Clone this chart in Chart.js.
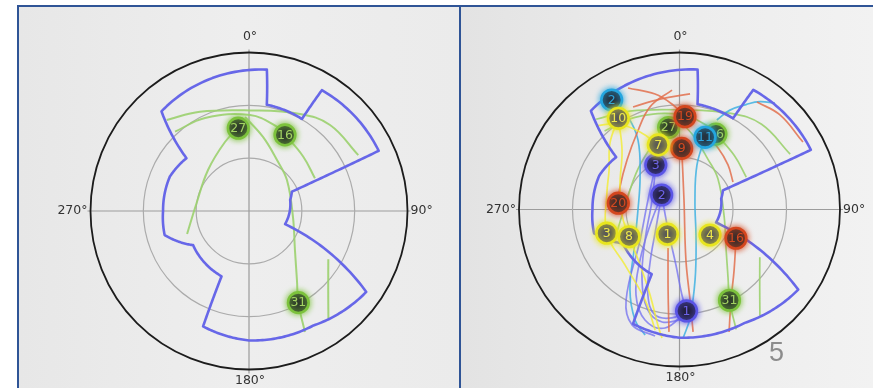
<!DOCTYPE html>
<html>
<head>
<meta charset="utf-8">
<script src="https://cdn.jsdelivr.net/npm/chart.js@4/dist/chart.umd.min.js"></script>
<style>
  html, body { margin: 0; padding: 0; background: #fff; width: 873px; height: 388px; overflow: hidden; }
  .panel { position: absolute; top: 5px; height: 383px; box-sizing: border-box;
           border-top: 2px solid #2f5496; border-left: 2px solid #2f5496; }
  #panelLeft  { left: 17px;  width: 443px; background: linear-gradient(90deg, #e7e7e7, #eeeeee 50%, #ebebeb); }
  #panelRight { left: 459px; width: 414px; background: linear-gradient(90deg, #e3e3e3, #ececec 50%, #f2f2f2); }
  canvas { position: absolute; }
  #page { position: absolute; left: 769px; top: 337px; font: 27px "Liberation Sans", sans-serif; color: #8c8c8c; }
</style>
</head>
<body>
<div class="panel" id="panelLeft"></div>
<div class="panel" id="panelRight"></div>
<canvas id="skyLeft" width="440" height="380" style="left:19px;top:8px"></canvas>
<canvas id="skyRight" width="411" height="380" style="left:462px;top:8px"></canvas>
<div id="page">5</div>
<script>
// ---- sky plot data: every position is [azimuth°, elevation°] ----
const elevationRings = [60, 30];
const compassLabels = ['0°', '90°', '180°', '270°'];

// horizon mask outline (azimuth, elevation) vertices, closed loop
const horizonMask = [
  [-41.3, 14.7], [7.2, 9.1], [9.5, 28.8], [29.9, 29.7], [31.1, 9.9], [65.1, 8.8],
  [65.7, 63.3], [75, 65.8], [110, 68.2], [124.6, 9.1], [150.6, 15.4], [180, 16.5],
  [201.7, 19.5], [202.8, 49.8], [238.6, 52.8], [254.1, 40.2], [270, 41.2],
  [293.5, 41], [310.2, 43.5]
];

// green group (shown in both plots)
const greenIds = ['27', '16', '31'];
const greenSky = [[352.6, 42.6], [25.3, 42.2], [151.7, 30.9]];
const greenTracks = [
  [[317.9, 20.3], [333.7, 27.1], [0.6, 32.9], [27.7, 27.8], [43.3, 22.9], [62.9, 20.3]],
  [[357.6, 36.6], [10.7, 47.2], [28.8, 57], [50.8, 62.2], [97.8, 64.8], [130.3, 55.8], [145.2, 42.3], [151.7, 30.9], [155.2, 14.3]],
  [[352.6, 42.6], [340.8, 48.5], [315, 57.1], [276.5, 59.7], [249.6, 52.5]],
  [[317.0, 28.4], [334.7, 31.6], [0.6, 35.5], [18.2, 39.6], [25.3, 42.2], [45, 46.4], [63.6, 48.2]],
  [[121.3, 37.3], [134.9, 26.5], [143.5, 14.2]]
];

// cyan group
const cyanIds = ['2', '11'];
const cyanSky = [[328.8, 16.6], [19.1, 46.2]];
const cyanTracks = [
  [[19.1, 46.2], [21.0, 62.7], [58.2, 79.8], [152, 70.2], [167.8, 48.7], [174.6, 27.5], [178.4, 16.3]],
  [[328.8, 16.6], [331.4, 29.6], [329.7, 43.9], [310.1, 61.1], [269.3, 66.7], [227.7, 55.5], [211.1, 36.2], [201.5, 21.9], [195, 15.5]],
  [[22.2, 34.6], [26.4, 26.4], [32.0, 18.9], [36.1, 13.5], [41.3, 8.9]]
];

// violet group
const violetIds = ['3', '2', '1'];
const violetSky = [[332.5, 61.2], [309.7, 77], [176.1, 31.7]];
const violetTracks = [
  [[309.7, 77], [241.7, 71.3], [217.4, 53.6], [206.5, 35.3], [197, 23.8], [186.8, 21.6], [176.1, 31.7]],
  [[309.7, 77], [231.2, 73.1], [208.7, 55.7], [199.9, 37.9], [192.8, 28], [183.9, 27.7], [176.1, 31.7]],
  [[309.7, 77], [208.5, 76.6], [183.6, 58.1], [178.4, 41], [176.1, 31.7]],
  [[332.5, 61.2], [287, 71.5], [231.6, 61.8], [210, 30.1], [201.9, 18.7], [190.7, 16.2]],
  [[332.5, 61.2], [289.3, 73.7], [227.8, 63.9], [207.5, 44.5], [197.1, 29.7], [188.6, 24.8], [179.7, 26.7]]
];

// red group
const redIds = ['19', '9', '20', '16'];
const redSky = [[3.3, 36.7], [2.0, 54.9], [276, 55.5], [117.5, 54.3]];
const redTracks = [
  [[356.5, 21.4], [344.3, 28.9], [331.5, 40.1], [314, 49.1], [291.1, 54.2], [276, 55.5]],
  [[337.5, 14.6], [348.3, 22.4], [356, 29.4], [3.3, 36.7]],
  [[336.1, 25.7], [350.2, 25.8], [5.1, 23.5]],
  [[2.0, 54.9], [24.8, 84], [172.9, 60.9], [173.5, 37.8], [173.8, 19.4]],
  [[117.5, 54.3], [138.6, 43.7], [150.9, 30.6], [158.4, 14.5]],
  [[35.2, 14.6], [46.1, 11.8], [60.8, 10.7]],
  [[13.8, 41.9], [31.5, 48.6], [46.8, 52.7], [62.2, 56.1]],
  [[196.2, 67], [187.9, 43.5], [184.8, 19.6]]
];

// yellow group
const yellowIds = ['10', '7', '3', '8', '1', '4'];
const yellowSky = [[326.7, 27.5], [342.2, 51.1], [251.6, 47], [241.1, 57.7], [205.6, 74.3], [130.5, 67.5]];
const yellowTracks = [
  [[326.7, 27.5], [314.3, 35.5], [299.8, 44.5], [283.1, 48.2], [251.6, 47], [223.9, 45.9], [200.4, 34.6], [191.2, 19.6]],
  [[315.7, 23], [324.9, 30.1], [333.5, 40.4], [342.2, 51.1]],
  [[241.1, 57.7], [214.8, 51.3], [198.6, 38.3], [190.4, 22.7], [187.6, 15.7]],
  [[326.7, 27.5], [316.6, 43.1], [292.8, 53.8], [264.3, 57.6], [241.1, 57.7]]
];

// ---- styling ----
const groupStyle = {
  green:  { track: 'rgba(155,208,110,0.9)', ring: '#7cc23c', fill: '#2d3a2a', text: '#a2d262' },
  cyan:   { track: 'rgba(64,178,226,0.85)', ring: '#24a6df', fill: '#26323e', text: '#2ba3dc' },
  violet: { track: 'rgba(112,110,240,0.75)', ring: '#5a54e6', fill: '#221f3c', text: '#6c62e8' },
  red:    { track: 'rgba(226,112,78,0.85)', ring: '#d4461e', fill: '#3c2d2a', text: '#d4481f' },
  yellow: { track: 'rgba(242,236,50,0.8)',  ring: '#e8e51e', fill: '#585858', text: '#ece64a' }
};
const groups = {
  green:  { ids: greenIds,  sky: greenSky,  tracks: greenTracks },
  cyan:   { ids: cyanIds,   sky: cyanSky,   tracks: cyanTracks },
  violet: { ids: violetIds, sky: violetSky, tracks: violetTracks },
  red:    { ids: redIds,    sky: redSky,    tracks: redTracks },
  yellow: { ids: yellowIds, sky: yellowSky, tracks: yellowTracks }
};

const D2R = Math.PI / 180;
// project (az, el) onto the plane: radius = zenith distance
function skyPoint(p) {
  const zd = 90 - p[1];
  return { x: zd * Math.sin(p[0] * D2R), y: zd * Math.cos(p[0] * D2R) };
}

function trackSet(pts, color, width) {
  return { data: pts.map(skyPoint), showLine: true, tension: 0.4, borderColor: color,
           borderWidth: width, pointRadius: 0, pointHoverRadius: 0, fill: false, clip: false };
}
function markerSet(name, i) {
  const g = groups[name], st = groupStyle[name];
  return { data: [skyPoint(g.sky[i])], pointRadius: 10.3, pointHoverRadius: 10.3, pointBorderWidth: 2.6,
           backgroundColor: st.fill, borderColor: st.ring, pointBackgroundColor: st.fill,
           pointBorderColor: st.ring, clip: false,
           satLabel: g.ids[i], labelColor: st.text, glow: st.ring };
}

function buildDatasets(trackGroups, markerOrder, width) {
  const list = [];
  trackGroups.forEach(name => groups[name].tracks.forEach(t => list.push(trackSet(t, groupStyle[name].track, width))));
  markerOrder.forEach(([name, i], k) => {
    const m = markerSet(name, i);
    if (k === 0) m.maskBefore = true;
    list.push(m);
  });
  list.forEach((d, i) => { d.order = -i; });
  return list;
}

function frame(chart) {
  const x = chart.scales.x, y = chart.scales.y;
  const cx = x.getPixelForValue(0), cy = y.getPixelForValue(0);
  return { x, y, cx, cy, rx: x.getPixelForValue(90) - cx, ry: cy - y.getPixelForValue(90) };
}

function drawMask(chart) {
  const { x, y } = frame(chart);
  const ctx = chart.ctx;
  ctx.save();
  ctx.beginPath();
  const n = horizonMask.length;
  for (let i = 0; i < n; i++) {
    const a = horizonMask[i];
    let b = horizonMask[(i + 1) % n];
    if (i === n - 1) b = [b[0] + 360, b[1]];
    const steps = 30;
    for (let s = 0; s <= steps; s++) {
      const t = s / steps;
      const p = skyPoint([a[0] + (b[0] - a[0]) * t, a[1] + (b[1] - a[1]) * t]);
      const px = x.getPixelForValue(p.x), py = y.getPixelForValue(p.y);
      if (i === 0 && s === 0) ctx.moveTo(px, py); else ctx.lineTo(px, py);
    }
  }
  ctx.closePath();
  ctx.strokeStyle = '#6767e8';
  ctx.lineWidth = 2.6;
  ctx.lineJoin = 'round';
  ctx.stroke();
  ctx.restore();
}

const skyDecor = {
  id: 'skyDecor',
  beforeDatasetsDraw(chart) {
    const { cx, cy, rx, ry } = frame(chart);
    const ctx = chart.ctx;
    ctx.save();
    ctx.strokeStyle = '#9c9c9c';
    ctx.lineWidth = 1.2;
    ctx.beginPath();
    ctx.moveTo(cx - rx - 3, cy); ctx.lineTo(cx + rx + 3, cy);
    ctx.moveTo(cx, cy - ry - 3); ctx.lineTo(cx, cy + ry + 4);
    ctx.stroke();
    ctx.strokeStyle = '#ababab';
    elevationRings.forEach(el => {
      const f = (90 - el) / 90;
      ctx.beginPath();
      ctx.ellipse(cx, cy, rx * f, ry * f, 0, 0, 2 * Math.PI);
      ctx.stroke();
    });
    ctx.strokeStyle = '#1c1c1c';
    ctx.lineWidth = 1.8;
    ctx.beginPath();
    ctx.ellipse(cx, cy, rx, ry, 0, 0, 2 * Math.PI);
    ctx.stroke();
    ctx.restore();
  },
  beforeDatasetDraw(chart, args) {
    const ds = chart.data.datasets[args.index];
    if (ds.maskBefore) drawMask(chart);
    if (ds.glow) {
      chart.ctx.save();
      chart.ctx.shadowColor = ds.glow;
      chart.ctx.shadowBlur = 6;
    }
  },
  afterDatasetDraw(chart, args) {
    const ds = chart.data.datasets[args.index];
    if (!ds.glow) return;
    const ctx = chart.ctx;
    ctx.restore();
    const pt = args.meta.data[0];
    ctx.save();
    ctx.font = '12.5px "DejaVu Sans"';
    ctx.fillStyle = ds.labelColor;
    ctx.textAlign = 'center';
    ctx.textBaseline = 'middle';
    ctx.fillText(ds.satLabel, pt.x, pt.y + 0.5);
    ctx.restore();
  },
  afterDraw(chart) {
    const { cx, cy, rx, ry } = frame(chart);
    const ctx = chart.ctx;
    ctx.save();
    ctx.font = '12.5px "DejaVu Sans"';
    ctx.fillStyle = '#333333';
    ctx.textBaseline = 'middle';
    ctx.textAlign = 'center';
    ctx.fillText(compassLabels[0], cx + 1, cy - ry - 15.5);
    ctx.fillText(compassLabels[2], cx + 1, cy + ry + 11);
    ctx.textAlign = 'left';
    ctx.fillText(compassLabels[1], cx + rx + 3, cy);
    ctx.textAlign = 'right';
    ctx.fillText(compassLabels[3], cx - rx - 3, cy);
    ctx.restore();
  }
};

function makeSky(id, padding, datasets) {
  return new Chart(document.getElementById(id), {
    type: 'scatter',
    data: { datasets },
    options: {
      responsive: false, animation: false, events: [],
      layout: { padding },
      plugins: { legend: { display: false }, tooltip: { enabled: false } },
      scales: {
        x: { type: 'linear', min: -90, max: 90, display: false },
        y: { type: 'linear', min: -90, max: 90, display: false }
      }
    },
    plugins: [skyDecor]
  });
}

makeSky('skyLeft', { left: 71.5, right: 51.5, top: 44.5, bottom: 18.5 },
  buildDatasets(['green'], [['green', 0], ['green', 1], ['green', 2]], 2));

makeSky('skyRight', { left: 57, right: 33, top: 44.5, bottom: 21.5 },
  buildDatasets(['green', 'cyan', 'violet', 'red', 'yellow'], [
    ['green', 0], ['green', 1], ['green', 2], ['cyan', 0], ['red', 0], ['red', 1], ['red', 2],
    ['violet', 0], ['violet', 1], ['violet', 2], ['cyan', 1],
    ['yellow', 0], ['yellow', 1], ['yellow', 2], ['yellow', 3], ['yellow', 4], ['yellow', 5], ['red', 3]
  ], 1.7));
</script>
</body>
</html>
